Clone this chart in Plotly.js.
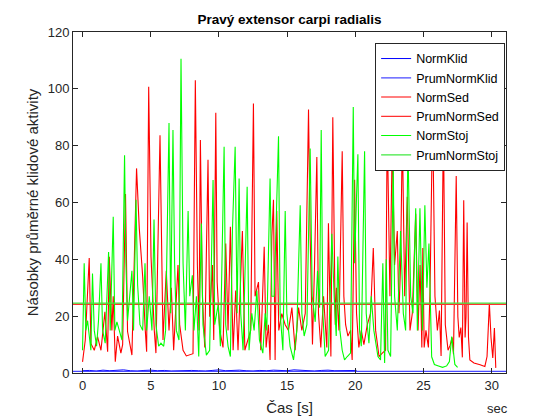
<!DOCTYPE html>
<html>
<head>
<meta charset="utf-8">
<script src="https://cdn.plot.ly/plotly-3.0.1.min.js"></script>
<style>html,body{margin:0;padding:0;background:#fff;}#chart{width:560px;height:420px;}</style>
</head>
<body>
<div id="chart"></div>
<script>
// ---- data ----
var klidT = [0,0.5,1,1.5,2,2.5,3,3.5,4,4.5,5,5.5,6,6.5,7,7.5,8,8.5,9,9.5,10,10.5,11,11.5,12,12.5,13,13.5,14,14.5,15,15.5,16,16.5,17,17.5,18,18.5,19,19.5,20.1];
var klidV = [0.8,0.9,0.7,1.0,0.8,0.9,1.1,0.8,0.7,0.9,1.0,0.8,0.9,0.7,0.8,1.0,0.9,0.8,0.7,0.9,1.1,0.8,0.9,1.0,0.8,0.7,0.9,0.8,1.0,0.9,0.8,1.1,0.9,0.8,0.7,0.9,1.0,0.8,0.9,0.8,0.9];
var prumKlid = 0.6;

var sedT = [0,0.2,0.49,0.61,0.86,1.1,1.35,1.64,1.84,1.96,2.15,2.25,2.4,2.57,2.81,2.94,3.15,3.3,3.62,3.96,4.16,4.41,4.6,4.7,4.85,5.02,5.26,5.38,5.68,
  5.9,6.14,6.34,6.51,6.68,7.0,7.12,7.37,7.61,8.1,8.27,8.42,8.54,8.64,8.79,8.96,9.2,9.32,9.52,9.62,9.77,9.87,10.06,10.3,10.5,10.67,10.84,11.04,11.23,11.4,11.72,11.9,12.14,
  12.33,12.53,12.65,12.9,13.07,13.32,13.46,13.63,13.75,13.88,14.0,14.12,14.24,14.39,14.61,14.86,15.1,15.35,15.59,15.84,16.08,16.33,16.57,16.69,16.86,17.01,17.18,17.3,17.47,17.67,17.91,18.03,18.21,18.35,18.53,
  18.62,18.8,19.04,19.16,19.29,19.46,19.65,19.77,19.95,20.09,20.26,20.44,20.63,20.88,21.12,21.32,21.49,21.74,21.98,22.22,22.34,22.54,22.71,22.88,23.08,23.2,23.32,23.45,23.62,23.81,24.01,24.18,24.43,24.6,24.75,24.88,24.95,25.05,
  25.18,25.36,25.48,25.67,25.84,26.02,26.17,26.29,26.46,26.6,26.8,26.95,27.1,27.2,27.4,27.52,27.62,27.74,27.85,27.95,28.05,28.12,28.2,28.3,28.4,28.7,29.15,29.5,29.66,29.83,29.95,30.08,30.2,30.3];
var sedV = [3.9,11.6,40.5,10.4,8,12.8,8,21.5,7.5,40.9,15,27,4,13,7,10,63,14.6,6.3,72,50.9,33.9,15,7.5,100.7,41,15,7,83.7,
  11.6,36,15,30,8,38,17,8,6,6.8,103,38,15,82,27,9,75,19.8,38,11.6,91.6,32,15,9,45.6,15,51.5,8,29,8,50,8,11.6,
  15,94.8,27,32,8,44.4,9,17,4.6,48,61,4.6,57,15,20.9,17,15,23,8,23,15,21,92.7,48,10,38,76,21,9,27,9,52.7,5.8,90,17,
  30,15,78,27,17,13,15,4.6,68,21,9,15,10,17,21,44,15,5.8,7,8,88,27,82,38,50,21,38,85,27,62,15,21,56,15,38,9,44,9,
  15,9,29,92,27,15,22,6,88,17,8,9.7,12.5,6.6,69.3,19.8,12.5,16,5.5,60.8,12.5,19.8,53,12.5,4.6,3.5,2.9,2.3,5.8,24.5,12.5,5.3,15.8,1.8];
var prumSed = 24.2;

var stojT = [0,0.12,0.24,0.37,0.61,0.73,0.86,1.03,1.17,1.35,1.47,1.66,1.91,2.03,2.25,2.37,2.52,2.69,2.89,3.08,3.18,3.3,3.47,3.62,3.74,3.92,4.04,4.21,4.41,4.58,4.7,4.89,5.09,5.24,5.38,5.58,5.75,
  5.95,6.09,6.34,6.46,6.63,6.75,6.88,7.07,7.22,7.37,7.54,7.74,7.86,8.05,8.17,8.35,8.52,8.71,8.83,9.08,9.32,9.57,9.69,9.94,10.11,10.38,10.5,10.67,10.84,10.99,11.19,11.33,11.48,11.6,11.77,12.07,12.21,
  12.41,12.58,12.78,12.97,13.22,13.39,13.51,13.75,13.88,14.05,14.37,14.49,14.69,14.86,14.98,15.22,15.47,15.71,15.96,16.08,16.25,16.45,16.69,16.84,17.06,17.23,17.38,17.5,17.62,17.79,18.04,18.28,18.45,18.6,
  18.72,18.87,19.04,19.21,19.41,19.65,19.85,19.95,20.09,20.19,20.31,20.44,20.68,20.8,21.0,21.17,21.36,21.66,21.85,22.02,22.15,22.27,22.39,22.59,22.78,22.88,23.08,23.32,23.52,23.69,23.86,23.96,24.06,24.23,24.43,24.55,24.74,24.92,
  25.1,25.25,25.4,25.6,25.8,26.1,26.4,26.7,26.9,27.07,27.2,27.3,27.5];
var stojV = [8,38.6,15,18.4,8,35,15,9.4,18.4,38.6,15,10.5,42.6,15,55,15,18,15,11.6,76.6,38.6,18.4,27,36,15,61,31,17,15,38.6,15,27,15,54,17,9.4,10.5,
  9.4,15,88,21,85.5,38.6,15,11.6,110.6,38.6,15,57,27,34.4,15,27,5.8,52.6,17,6.3,8,67.9,17,24,9.4,79.6,17,9.4,5.8,50,79.6,21,68.4,21,8,65.5,8,
  21,15,29,11.6,7,21,15,68.4,27,27,83.3,21,8,57,21,9.4,4.6,15,59,21,13,17,79,27,18,36,23,85.5,21,5.8,8,49,27,13,
  41,15,8,4.6,5.8,7,93.6,38.6,62,77,15,9.4,78,21,10.5,27,15,5.8,4.6,38.6,3.5,40,8,5.8,73.8,27,15,50,21,15,80,50,27,21,58,15,58,15,
  59,30,45.6,5.7,3,2.5,2,2.5,4,12.8,6,3,2];
var prumStoj = 24.6;

var xLimits = [-0.7, 31.05];
var yLimits = [0, 120];
var xTicks = [0,5,10,15,20,25,30];
var yTicks = [0,20,40,60,80,100,120];

var traces = [
  {x: klidT, y: klidV, name: 'NormKlid', type: 'scatter', mode: 'lines', line: {color: '#0000ff', width: 1}},
  {x: xLimits, y: [prumKlid, prumKlid], name: 'PrumNormKlid', type: 'scatter', mode: 'lines', line: {color: '#4848ff', width: 1.2}},
  {x: sedT, y: sedV, name: 'NormSed', type: 'scatter', mode: 'lines', line: {color: '#ff0000', width: 1.1}},
  {x: xLimits, y: [prumSed, prumSed], name: 'PrumNormSed', type: 'scatter', mode: 'lines', line: {color: '#ff3030', width: 1.3}},
  {x: stojT, y: stojV, name: 'NormStoj', type: 'scatter', mode: 'lines', line: {color: '#00ff00', width: 1.1}},
  {x: xLimits, y: [prumStoj, prumStoj], name: 'PrumNormStoj', type: 'scatter', mode: 'lines', line: {color: '#40e840', width: 1.2}}
];

var axColor = '#262626';
var layout = {
  width: 560, height: 420,
  paper_bgcolor: '#ffffff', plot_bgcolor: '#ffffff',
  margin: {l: 73, r: 54, t: 32, b: 47, pad: 0},
  font: {family: 'Liberation Sans, Arial, sans-serif', size: 13, color: axColor},
  title: {text: '<b>Pravý extensor carpi radialis</b>', font: {size: 13.5, color: '#000000'}, x: 0.517, xanchor: 'center', y: 0.955, yanchor: 'middle'},
  showlegend: true,
  legend: {x: 0.998, xanchor: 'right', y: 0.968, yanchor: 'top', bgcolor: '#ffffff', bordercolor: axColor, borderwidth: 1,
           font: {size: 12.5, color: '#000000'}, tracegroupgap: 0, itemwidth: 30},
  xaxis: {range: xLimits, tickvals: xTicks, ticktext: xTicks.map(String), ticks: 'inside', ticklen: 5, tickcolor: axColor,
          showline: true, linecolor: axColor, linewidth: 1, mirror: 'ticks', showgrid: false, zeroline: false,
          tickfont: {size: 13, color: axColor},
          title: {text: 'Čas [s]', font: {size: 15, color: axColor}, standoff: 10}},
  yaxis: {range: yLimits, tickvals: yTicks, ticktext: yTicks.map(String), ticks: 'inside', ticklen: 5, tickcolor: axColor,
          showline: true, linecolor: axColor, linewidth: 1, mirror: 'ticks', showgrid: false, zeroline: false,
          tickfont: {size: 13, color: axColor},
          title: {text: 'Násobky průměrné klidové aktivity', font: {size: 15, color: axColor}, standoff: 5}},
  annotations: [
    {text: 'sec', xref: 'paper', yref: 'paper', x: 0.98, y: -0.105, xanchor: 'center', yanchor: 'middle', showarrow: false,
     font: {size: 13, color: axColor}}
  ]
};

Plotly.newPlot('chart', traces, layout, {staticPlot: true, displayModeBar: false});
</script>
</body>
</html>
